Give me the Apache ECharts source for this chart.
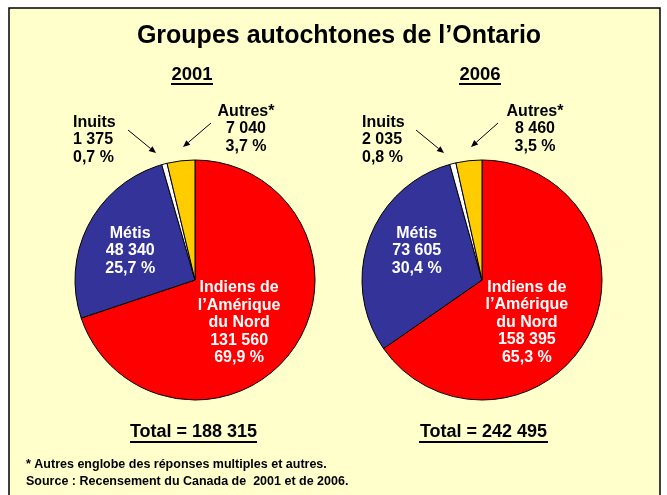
<!DOCTYPE html>
<html>
<head>
<meta charset="utf-8">
<script src="https://cdn.jsdelivr.net/npm/echarts@6/dist/echarts.min.js"></script>
<style>
  html, body { margin: 0; padding: 0; background: #fff; }
  #chart { width: 667px; height: 495px; }
</style>
</head>
<body>
<div id="chart"></div>
<script>
// data
const groups = ['Indiens de\nl’Amérique\ndu Nord', 'Métis', 'Inuits', 'Autres*']
const values2001 = [131560, 48340, 1375, 7040]
const values2006 = [158395, 73605, 2035, 8460]
const years = ['2001', '2006']
const colors = ['#FF0000', '#333399', '#FFFFFF', '#FFCC00']

const font = '"Liberation Sans", Arial, sans-serif'

// 131560 -> "131 560"
function fmt(n) {
  return String(n).replace(/\B(?=(\d{3})+(?!\d))/g, ' ')
}
function sum(arr) {
  return arr.reduce((a, b) => a + b, 0)
}

// where the labels of the small slices go, and nudges for the inside ones
const layouts = [
  [{ dx: -7, dy: 6 }, { dx: -9, dy: 0 }, { x: 73, y: 140, align: 'left' }, { x: 246, y: 129, align: 'center' }],
  [{ dx: -11, dy: 13 }, { dx: -6, dy: -8 }, { x: 362, y: 140, align: 'left' }, { x: 535, y: 129, align: 'center' }]
]
const centers = [[195, 280], [482, 280]]

function makeSeries(values, idx) {
  const total = sum(values)
  return {
    type: 'pie',
    radius: 120,
    center: centers[idx],
    startAngle: 90,
    clockwise: true,
    avoidLabelOverlap: false,
    silent: true,
    itemStyle: { borderColor: '#000', borderWidth: 1 },
    labelLine: { show: false },
    label: {
      fontFamily: font,
      fontWeight: 'bold',
      fontSize: 16,
      lineHeight: 17.5,
      align: 'center',
      formatter: p => p.name + '\n' + fmt(p.value) + '\n' +
        (p.value / total * 100).toFixed(1).replace('.', ',') + ' %'
    },
    labelLayout: p => {
      const l = layouts[idx][p.dataIndex]
      if (l.x !== undefined) return { x: l.x, y: l.y, align: l.align, verticalAlign: 'middle' }
      return { dx: l.dx, dy: l.dy }
    },
    data: values.map((v, i) => ({
      name: groups[i],
      value: v,
      itemStyle: { color: colors[i] },
      label: i < 2
        ? { position: 'inside', color: '#fff' }
        : { position: 'outside', color: '#000' }
    }))
  }
}

function arrow(x1, y1, x2, y2) {
  const a = Math.atan2(y2 - y1, x2 - x1)
  const len = 7, w = 3
  const bx = x2 - len * Math.cos(a), by = y2 - len * Math.sin(a)
  return [
    { type: 'line', shape: { x1: x1, y1: y1, x2: bx, y2: by }, style: { stroke: '#000', lineWidth: 1 } },
    {
      type: 'polygon',
      shape: { points: [[x2, y2], [bx + w * Math.sin(a), by - w * Math.cos(a)], [bx - w * Math.sin(a), by + w * Math.cos(a)]] },
      style: { fill: '#000' }
    }
  ]
}

function underline(x1, x2, y) {
  return { type: 'line', shape: { x1: x1, y1: y, x2: x2, y2: y }, style: { stroke: '#000', lineWidth: 2 } }
}

const bold = (size) => ({ fontFamily: font, fontSize: size, fontWeight: 'bold', color: '#000' })

const chart = echarts.init(document.getElementById('chart'))
chart.setOption({
  backgroundColor: '#fff',
  animation: false,
  graphic: [
    { type: 'rect', z: -10, shape: { x: 9, y: 8, width: 651, height: 500 }, style: { fill: '#FFFFCC', stroke: '#000', lineWidth: 1.5 } },
    ...arrow(128, 130, 156, 153),
    ...arrow(211, 123, 183, 147),
    ...arrow(416, 130, 444, 153),
    ...arrow(498, 123, 471, 147),
    underline(171, 213, 84),
    underline(459, 501, 84),
    underline(130, 257, 442),
    underline(419, 548, 442)
  ],
  title: [
    { text: 'Groupes autochtones de l’Ontario', left: 339, top: 24, padding: 0, textAlign: 'center', textStyle: bold(25) },
    { text: years[0], left: 192, top: 65, padding: 0, textAlign: 'center', textStyle: bold(18.5) },
    { text: years[1], left: 480, top: 65, padding: 0, textAlign: 'center', textStyle: bold(18.5) },
    { text: 'Total = ' + fmt(sum(values2001)), left: 193.5, top: 423.5, padding: 0, textAlign: 'center', textStyle: bold(18) },
    { text: 'Total = ' + fmt(sum(values2006)), left: 483.5, top: 423.5, padding: 0, textAlign: 'center', textStyle: bold(18) },
    { text: '* Autres englobe des réponses multiples et autres.\nSource : Recensement du Canada de  2001 et de 2006.',
      left: 26, top: 455.5, padding: 0,
      textStyle: Object.assign(bold(12.5), { lineHeight: 17.5 }) }
  ],
  series: [makeSeries(values2001, 0), makeSeries(values2006, 1)]
})
</script>
</body>
</html>
